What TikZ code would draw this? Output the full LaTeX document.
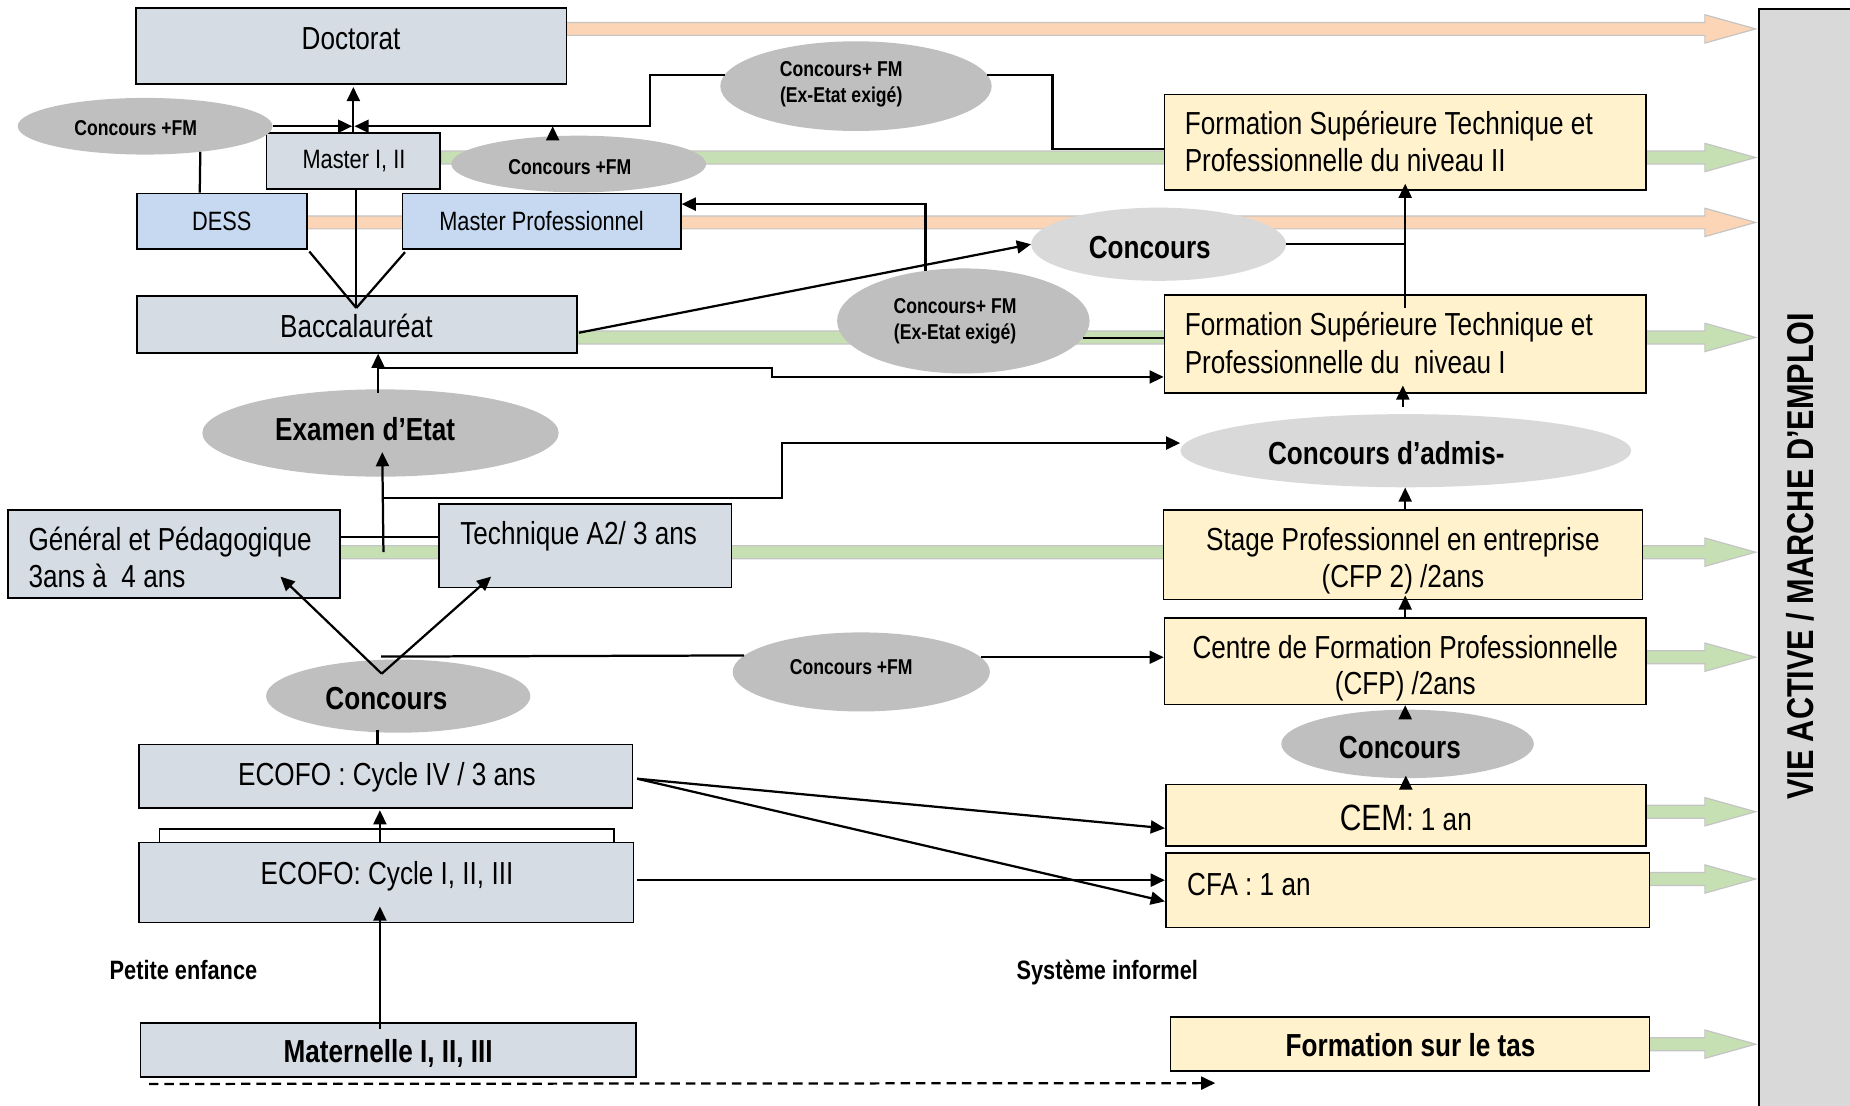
\documentclass[tikz,border=0pt]{standalone}
\usepackage{fontspec}
\setmainfont{Liberation Sans}[FakeStretch=0.82]
\usetikzlibrary{arrows.meta,shapes.geometric,calc}
\definecolor{boxgray}{HTML}{D6DCE4}
\definecolor{boxblue}{HTML}{C6D9F1}
\definecolor{boxyel}{HTML}{FFF2CC}
\definecolor{elldark}{HTML}{BFBFBF}
\definecolor{elllight}{HTML}{D9D9D9}
\definecolor{barfill}{HTML}{D9D9D9}
\definecolor{orfill}{HTML}{FBD5B5}
\definecolor{grfill}{HTML}{C6E0B4}
\definecolor{arrline}{HTML}{C4C4C4}
\newcommand\fatarrow[3]{\filldraw[#3, line width=1pt, shift={(0,#2)}] (#1,-5.5) -- (1445,-5.5) -- (1445,-12) -- (1488,0) -- (1445,12) -- (1445,5.5) -- (#1,5.5) -- cycle;}
\tikzset{
  gbox/.style={draw=black, line width=1.4pt, fill=boxgray, inner sep=0pt},
  bbox/.style={gbox, fill=boxblue},
  ybox/.style={gbox, fill=boxyel},
  dell/.style={ellipse, fill=elldark, inner sep=0pt},
  lell/.style={ellipse, fill=elllight, inner sep=0pt},
  orarr/.style={fill=orfill, draw=arrline},
  grarr/.style={fill=grfill, draw=arrline},
  tx/.style={inner sep=0pt, anchor=base, font=\fontsize{27}{32}\selectfont},
  txl/.style={tx, anchor=base west},
  txs/.style={inner sep=0pt, anchor=base, font=\fontsize{22.5}{27}\selectfont},
  txb/.style={inner sep=0pt, anchor=base, font=\bfseries\fontsize{27}{32}\selectfont},
  txbs/.style={inner sep=0pt, anchor=base, font=\bfseries\fontsize{22.5}{27}\selectfont},
  txbss/.style={inner sep=0pt, anchor=base, font=\bfseries\fontsize{18.2}{22}\selectfont},
  ln/.style={line width=1.9pt, draw=black},
  arr/.style={ln, -{Triangle[length=12pt,width=11pt]}},
}
\begin{document}
\begin{tikzpicture}[x=1pt,y=-1pt]
\useasboundingbox (0,0) rectangle (1568,937);
\clip (0,0) rectangle (1568,937);
\fill[white] (0,0) rectangle (1568,937);

% fat arrows towards the bar
\fatarrow{480}{24.5}{orarr}
\fatarrow{374}{133.5}{grarr}
\fatarrow{260}{188.5}{orarr}
\fatarrow{489}{286}{grarr}
\fatarrow{288}{468}{grarr}
\fatarrow{1395}{557}{grarr}
\fatarrow{1395}{688}{grarr}
\fatarrow{1398}{745}{grarr}
\fatarrow{1398}{885}{grarr}

% bar
\node[draw=black, line width=1.4pt, fill=barfill, anchor=north west, minimum width=140pt, minimum height=1000pt, inner sep=0pt] (bar) at (1490,7) {};
\node[inner sep=0pt, rotate=90, font=\bfseries\fontsize{31.7}{36}\selectfont] (bartxt) at (1525.5,471.5) {VIE ACTIVE / MARCHE D’EMPLOI};

\coordinate (k9) at (323,556.5);

% boxes
\node[gbox, minimum width=365pt, minimum height=64pt] (doc) at (297.5,39) {};
\node[gbox, minimum width=147pt, minimum height=47pt] (mas) at (299.5,136.5) {};
\node[bbox, minimum width=144pt, minimum height=47pt] (dess) at (188,187.5) {};
\node[bbox, minimum width=236pt, minimum height=47pt] (mpro) at (459,187.5) {};
\node[gbox, minimum width=373pt, minimum height=48pt] (bac) at (302.5,275) {};
\node[gbox, minimum width=281pt, minimum height=75pt] (gen) at (147.5,469.5) {};
\node[gbox, minimum width=248pt, minimum height=71pt] (tech) at (496,462.5) {};
\node[gbox, minimum width=418pt, minimum height=54pt] (eco4) at (327,658) {};
\node[gbox, minimum width=419pt, minimum height=68pt] (eco1) at (327.5,748) {};
\node[gbox, minimum width=420pt, minimum height=46pt] (mat) at (329,890) {};
\node[ybox, minimum width=408pt, minimum height=81pt] (fst2) at (1191,120.5) {};
\node[ybox, minimum width=408pt, minimum height=83pt] (fst1) at (1191,291.5) {};
\node[ybox, minimum width=406pt, minimum height=76pt] (stage) at (1189,470) {};
\node[ybox, minimum width=408pt, minimum height=73pt] (cfp) at (1191,560.5) {};
\node[ybox, minimum width=407pt, minimum height=52pt] (cem) at (1191.5,691) {};
\node[ybox, minimum width=410pt, minimum height=63pt] (cfa) at (1193,754.5) {};
\node[ybox, minimum width=406pt, minimum height=46pt] (tas) at (1195,885) {};

% ellipses
\node[dell, minimum width=216pt, minimum height=48pt] (ecl) at (123,107) {};
\node[dell, minimum width=216pt, minimum height=48pt] (ecm) at (490.5,139) {};
\node[dell, minimum width=230pt, minimum height=76pt] (ex1) at (725.5,73) {};
\node[lell, minimum width=216pt, minimum height=62pt] (ecr) at (982,207) {};
\node[dell, minimum width=214pt, minimum height=89pt] (ex2) at (816.5,272) {};
\node[dell, minimum width=302pt, minimum height=74pt] (exam) at (322.5,367) {};
\node[dell, minimum width=224pt, minimum height=62pt] (ecl2) at (337.5,590) {};
\node[dell, minimum width=218pt, minimum height=67pt] (ecb) at (730,569.5) {};
\node[lell, minimum width=382pt, minimum height=62pt] (adm) at (1191.5,382) {};
\node[dell, minimum width=214pt, minimum height=58pt] (ecb2) at (1193,630.5) {};

% texts
\node[tx] (t1) at (297.5,41.7) {Doctorat};
\node[txs] (t2) at (300,143) {Master I, II};
\node[txs] (t3) at (188,195) {DESS};
\node[txs] (t4) at (459,195) {Master Professionnel};
\node[tx] (t5) at (302,285.7) {Baccalauréat};
\node[txbss] (t6) at (115,114.5) {Concours +FM};
\node[txbss] (t7) at (483,147.5) {Concours +FM};
\node[txbss] (t8) at (713,64.5) {Concours+ FM};
\node[txbss] (t9) at (713,86.5) {(Ex-Etat exigé)};
\node[txbss] (t10) at (809.5,265.5) {Concours+ FM};
\node[txbss] (t11) at (809.5,287.5) {(Ex-Etat exigé)};
\node[txb] (t12) at (974.5,218.7) {Concours};
\node[txb] (t13) at (309.5,373.7) {Examen d’Etat};
\node[txl] (t14) at (24,466.7) {Général et Pédagogique};
\node[txl] (t15) at (24,497.7) {3ans à\ \ 4 ans};
\node[txl] (t16) at (390,461.7) {Technique A2/ 3 ans};
\node[txb] (t17) at (327.5,601.7) {Concours};
\node[txbss] (t18) at (721.5,571.5) {Concours +FM};
\node[tx] (t19) at (328,665.7) {ECOFO : Cycle IV / 3 ans};
\node[tx] (t20) at (328,749.7) {ECOFO: Cycle I, II, III};
\node[txbs] (t21) at (155.5,830) {Petite enfance};
\node[txbs] (t22) at (938.5,830) {Système informel};
\node[txb] (t23) at (329,900.7) {Maternelle I, II, III};
\node[txl] (t24) at (1004,113.7) {Formation Supérieure Technique et};
\node[txl] (t25) at (1004,145.7) {Professionnelle du niveau II};
\node[txl] (t26) at (1004,284.7) {Formation Supérieure Technique et};
\node[txl] (t27) at (1004,316.7) {Professionnelle du\ \ niveau I};
\node[txb] (t28) at (1175,393.7) {Concours d’admis-};
\node[tx] (t29) at (1189,466.7) {Stage Professionnel en entreprise};
\node[tx] (t30) at (1189,497.7) {(CFP 2) /2ans};
\node[tx] (t31) at (1191,557.7) {Centre de Formation Professionnelle};
\node[tx] (t32) at (1191,588.7) {(CFP) /2ans};
\node[txb] (t33) at (1186.5,642.7) {Concours};
\node[tx] (t34) at (1191.5,703.7) {{\fontsize{31}{36}\selectfont CEM}: 1 an};
\node[txl] (t35) at (1006,758.7) {CFA : 1 an};
\node[txb] (t36) at (1195.5,895.7) {Formation sur le tas};

% connectors
\coordinate (j1) at (299.5,107);
\draw[arr] (mas.north) -- ($(mas.north |- doc.south)+(0,2)$);
\draw[arr] (ecl.east) -- ($(j1)+(-1,0)$);
\coordinate (k1) at (551,107);
\draw[arr] (ex1.175) -| (k1) -- ($(j1)+(1,0)$);
\draw[arr] (ecm.133) -- (ecm.133 |- j1);
\draw[ln] ($(dess.north west)+(54,0)$) -- (ecl.-25);
\coordinate (k2) at (892,126);
\draw[ln] (ex1.5) -| (k2) -- (k2 -| fst2.west);
\draw[arr] ($(bac.east)+(1,7)$) -- (ecr.west);
\draw[ln] (ecr.east) -- (ecr.east -| fst1.north);
\draw[arr] ($(fst1.north)+(0,12)$) -- ($(fst2.south)+(0,-6)$);
\draw[arr] (ex2.127) |- ($(mpro.east)+(0,-14.5)$);
\draw[ln] (ex2.-8) -- (ex2.-8 -| fst1.west);
\coordinate (k4) at (320.5,333);
\draw[arr] (k4) -- (k4 |- bac.south);
\coordinate (k5) at (320.5,312);
\coordinate (k5b) at (654,312);
\draw[arr] (k5) -- (k5b) |- ($(fst1.west)+(0,28)$);
\coordinate (k6) at (325,468);
\draw[arr] (k6) -- ($(exam.south)+(1.5,-21)$);
\coordinate (k7) at (325,422);
\coordinate (k7b) at (663,422);
\draw[arr] (k7) -- (k7b) |- ($(adm.west)+(0,-6.5)$);
\draw[ln] ($(gen.east)+(0,-14.5)$) -- ($(tech.west)+(0,-7.5)$);
\coordinate (k8) at (323.5,571);
\draw[arr] (k8) -- ($(gen.south east)+(-51,-19)$);
\draw[arr] (k8) -- ($(tech.south west)+(45,-10)$);
\draw[ln] (k9) -- (ecb.172.6);
\draw[arr] (ecb.7.4) -- (ecb.7.4 -| cfp.west);
\draw[ln] ($(eco4.north)+(-7,-12)$) -- ($(eco4.north)+(-7,0)$);
\draw[arr] ($(eco1.north)+(-5.5,0)$) -- ($(eco4.south)+(-5,1)$);
\draw[arr] ($(mat.north)+(-7,6)$) -- ($(eco1.north)+(-5.5,55)$);
\draw[line width=1.4pt] ($(eco1.north west)+(18,0)$) -- ++(0,-10.5) -| ($(eco1.north east)+(-17.5,0)$);
\coordinate (k10) at (540,660);
\draw[arr] (k10) -- ($(cem.west)+(0,11)$);
\draw[arr] (k10) -- ($(cfa.west)+(0,9.5)$);
\draw[arr] ($(eco1.east)+(2,-2)$) -- ($(cfa.west)+(0,-8.5)$);
\draw[arr] ($(cfp.south)+(0,10)$) -- (cfp.south);
\draw[arr] (cem.north) -- ($(cem.north)+(0,-7)$);
\draw[arr] (cfp.north) -- ($(stage.south)+(2,-4)$);
\draw[arr] ($(stage.north)+(2,0)$) -- ($(adm.south)+(-0.5,0)$);
\draw[arr] ($(adm.north)+(-2.5,-6)$) -- ($(fst1.south)+(-2,-7)$);
\coordinate (k11) at (302,261);
\draw[ln] ($(dess.south east)+(1.5,1.5)$) -- (k11);
\draw[ln] ($(mpro.south west)+(3,2)$) -- (k11);
\draw[ln] ($(mas.south)+(2.5,0)$) -- (k11);
\coordinate (d2) at (1030,918);
\draw[ln, dashed, dash pattern=on 8pt off 5pt, -{Triangle[length=12pt,width=11pt]}] ($(mat.south west)+(8,5)$) -- (d2);
\end{tikzpicture}
\end{document}
